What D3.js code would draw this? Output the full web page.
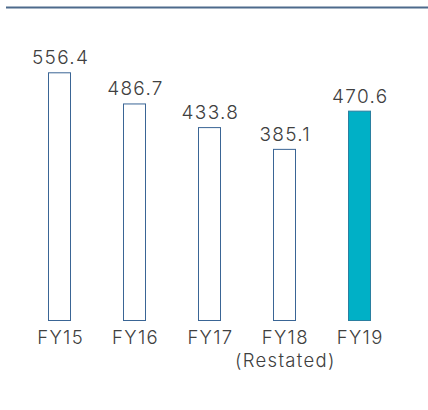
<!DOCTYPE html>
<html>
<head>
<meta charset="utf-8">
<script src="https://cdn.jsdelivr.net/npm/d3@7"></script>
<style>
  html, body { margin: 0; padding: 0; background: #ffffff; }
  svg { display: block; }
  text { font-family: Inter, "Open Sans", sans-serif; font-weight: 300; fill: #404040; letter-spacing: 1.3px; }
</style>
</head>
<body>
<svg id="chart" width="428" height="410"></svg>
<script>
// Yearly values
const categories = ["FY15", "FY16", "FY17", "FY18", "FY19"];
const subLabels = ["", "", "", "(Restated)", ""];
const values = [556.4, 486.7, 433.8, 385.1, 470.6];
const highlighted = [false, false, false, false, true];

const svg = d3.select("#chart");
const W = 428;
const FONT = "Inter, 'Open Sans', sans-serif";
const SPACING = 1.3;

// Rule across the top
svg.append("line")
  .attr("x1", 6).attr("x2", W)
  .attr("y1", 7.5).attr("y2", 7.5)
  .attr("stroke", "#4d6a8c")
  .attr("stroke-width", 2);

const baseY = 321;
const x = d3.scaleBand()
  .domain(categories)
  .range([22.5, 397])
  .paddingInner(0.69)
  .paddingOuter(0.345);

const y = d3.scaleLinear()
  .domain([0, 556.4])
  .range([baseY, 72.3]);

const g = svg.append("g");

g.selectAll("rect.bar")
  .data(categories)
  .join("rect")
  .attr("class", "bar")
  .attr("x", d => Math.round(x(d)) + 0.5)
  .attr("y", (d, i) => y(values[i]) + 0.5)
  .attr("width", Math.round(x.bandwidth()) - 1)
  .attr("height", (d, i) => baseY - y(values[i]) - 1)
  .attr("fill", (d, i) => highlighted[i] ? "#00b0c6" : "#ffffff")
  .attr("stroke", (d, i) => highlighted[i] ? "#2a7fa0" : "#3a6595")
  .attr("stroke-width", 1);

// Value labels above bars (shifted by half the trailing letter gap)
g.selectAll("text.value")
  .data(categories)
  .join("text")
  .attr("class", "value")
  .attr("x", d => x(d) + x.bandwidth() / 2 + SPACING / 2)
  .attr("y", (d, i) => y(values[i]) - 8)
  .attr("text-anchor", "middle")
  .attr("font-size", 19)
  .text((d, i) => values[i].toFixed(1));

// Category axis
const axis = d3.axisBottom(x).tickSize(0).tickPadding(0);
const ax = svg.append("g")
  .attr("transform", `translate(0,${baseY})`)
  .call(axis);
ax.select(".domain").remove();
ax.selectAll(".tick text")
  .attr("dy", null)
  .attr("x", SPACING / 2)
  .attr("y", 22.5)
  .attr("font-size", 18.5)
  .attr("font-family", FONT)
  .attr("font-weight", 300)
  .attr("fill", "#404040");

// Secondary line under category names
ax.selectAll(".tick")
  .append("text")
  .attr("x", SPACING / 2)
  .attr("y", 45.5)
  .attr("text-anchor", "middle")
  .attr("font-size", 18.5)
  .attr("font-family", FONT)
  .attr("font-weight", 300)
  .attr("fill", "#404040")
  .text(d => subLabels[categories.indexOf(d)]);
</script>
</body>
</html>
